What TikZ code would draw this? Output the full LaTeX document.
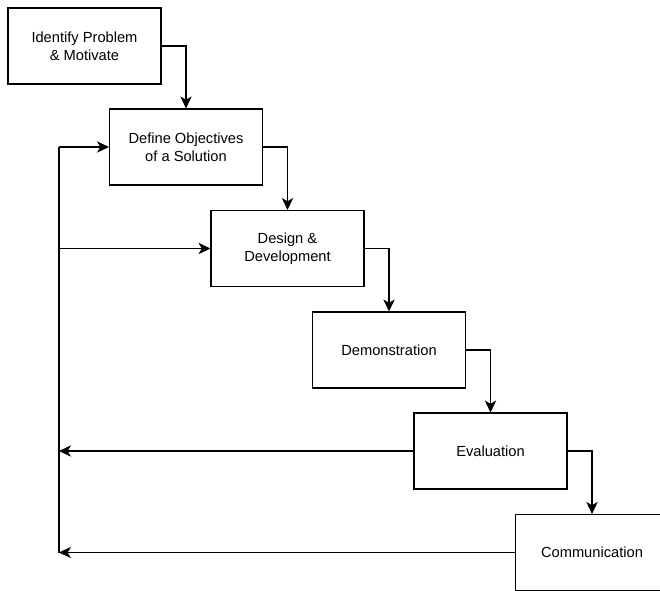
\documentclass[tikz,border=0pt]{standalone}
\usepackage{fontspec}
\setmainfont{Liberation Sans}
\usetikzlibrary{arrows.meta}
\begin{document}
\begin{tikzpicture}[x=0.75pt,y=-0.75pt,
  stage/.style={draw, line width=0.8pt, fill=white, minimum width=114.75pt, minimum height=57pt,
    align=center, inner sep=0pt, font=\fontsize{11pt}{13.5pt}\selectfont},
  flow/.style={line width=0.8pt, -{Stealth[length=9pt,width=8.5pt,inset=2.5pt]}},
  feedline/.style={line width=0.8pt}]
\useasboundingbox (0,0) rectangle (660,590);
\clip (0,0) rectangle (660,590);
\node[stage] (s1) at (84.5,46) {Identify Problem\\\& Motivate};
\node[stage] (s2) at (186,147) {Define Objectives\\of a Solution};
\node[stage] (s3) at (287.5,248.5) {Design \&\\Development};
\node[stage] (s4) at (389,350) {Demonstration};
\node[stage] (s5) at (490.5,451) {Evaluation};
\node[stage] (s6) at (592,552.5) {Communication};
% forward flow
\draw[flow] (s1.east) -| (s2.north);
\draw[flow] (s2.east) -| (s3.north);
\draw[flow] (s3.east) -| (s4.north);
\draw[flow] (s4.east) -| (s5.north);
\draw[flow] (s5.east) -| (s6.north);
% feedback loop along the left side
\coordinate (ftop) at (59,147);
\coordinate (fbot) at (59,552.5);
\draw[feedline] (ftop) -- (fbot);
\draw[flow] (ftop) -- (s2.west);
\draw[flow] (ftop |- s3.west) -- (s3.west);
\draw[flow] (s5.west) -- (s5.west -| ftop);
\draw[flow] (s6.west) -- (fbot);
\end{tikzpicture}
\end{document}
